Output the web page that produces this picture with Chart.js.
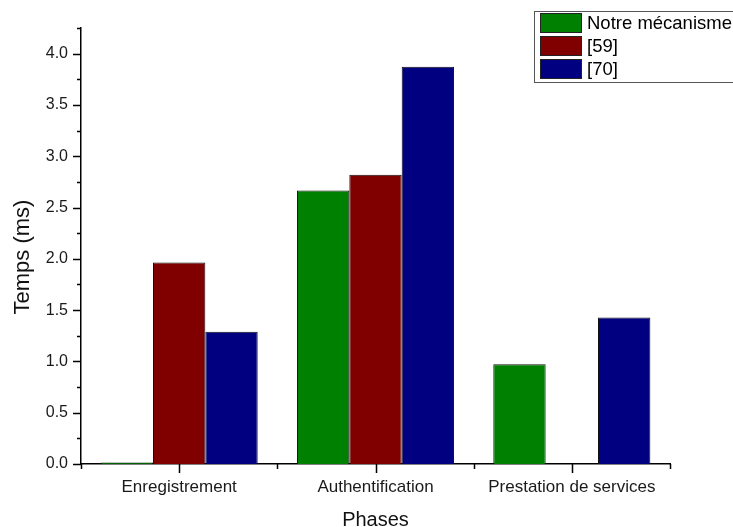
<!DOCTYPE html>
<html>
<head>
<meta charset="utf-8">
<title>Temps par phase</title>
<script src="https://cdn.jsdelivr.net/npm/chart.js@4.4.0/dist/chart.umd.min.js"></script>
<style>
  html, body { margin: 0; padding: 0; background: #ffffff; }
  canvas { display: block; }
</style>
</head>
<body>
<canvas id="chart" width="733" height="527"></canvas>
<script>
// Phases on the x axis
const categories = ['Enregistrement', 'Authentification', 'Prestation de services'];

// Execution time per phase (ms)
const notreMecanisme = [0.015, 2.665, 0.973];
const ref59 = [1.963, 2.82, 0];
const ref70 = [1.29, 3.873, 1.428];

// Series names shown in the legend
const seriesNames = ['Notre mécanisme', '[59]', '[70]'];

// Y axis range and labelled tick spacing
const yMin = 0;
const yMax = 4.25;
const yStep = 0.5;

const colors = ['#008000', '#800000', '#000080'];
const FONT = '"Liberation Sans", Arial, sans-serif';

// Draws the tick marks, axis titles and the boxed legend
const decorations = {
  id: 'decorations',
  afterDraw(chart) {
    const ctx = chart.ctx;
    const area = chart.chartArea;
    const x = chart.scales.x;
    const y = chart.scales.y;
    ctx.save();
    ctx.strokeStyle = '#000';
    ctx.lineWidth = 1.5;

    // y ticks: long at every 0.5, short halfway between
    ctx.beginPath();
    for (let v = yMin; v <= yMax + 1e-9; v += yStep / 2) {
      const py = Math.round(y.getPixelForValue(v)) + 0.5;
      const major = Math.abs(v / yStep - Math.round(v / yStep)) < 1e-6;
      const len = major ? 8 : 4;
      ctx.moveTo(area.left, py);
      ctx.lineTo(area.left - len, py);
    }
    ctx.stroke();

    // x ticks: long at category centres, short at category boundaries
    ctx.beginPath();
    const n = categories.length;
    for (let i = 0; i < n; i++) {
      const px = Math.round(x.getPixelForValue(i)) + 0.5;
      ctx.moveTo(px, area.bottom);
      ctx.lineTo(px, area.bottom + 9);
    }
    for (let i = 0; i <= n; i++) {
      const px = Math.round(x.getPixelForValue(i - 0.5)) + 0.5;
      ctx.moveTo(px, area.bottom);
      ctx.lineTo(px, area.bottom + 5);
    }
    ctx.stroke();

    // axis titles
    ctx.fillStyle = '#111';
    ctx.textAlign = 'center';
    ctx.textBaseline = 'alphabetic';
    ctx.font = '20px ' + FONT;
    ctx.fillText('Phases', (area.left + area.right) / 2, 526);

    ctx.save();
    ctx.font = '22px ' + FONT;
    ctx.translate(29, 257);
    ctx.rotate(-Math.PI / 2);
    ctx.fillText('Temps (ms)', 0, 0);
    ctx.restore();

    // legend box
    ctx.strokeStyle = '#555';
    ctx.lineWidth = 1;
    ctx.strokeRect(534.5, 11.5, 220, 71);
    const rowTops = [13, 36, 59];
    ctx.font = '18.5px ' + FONT;
    ctx.textAlign = 'left';
    chart.data.datasets.forEach((ds, i) => {
      ctx.fillStyle = ds.backgroundColor;
      ctx.fillRect(540, rowTops[i], 42, 20);
      ctx.strokeStyle = '#222';
      ctx.strokeRect(540.5, rowTops[i] + 0.5, 41, 19);
      ctx.fillStyle = '#000';
      ctx.fillText(ds.label, 587, rowTops[i] + 15.5);
    });
    ctx.restore();
  }
};

const datasets = [notreMecanisme, ref59, ref70].map((values, i) => ({
  label: seriesNames[i],
  data: values,
  backgroundColor: colors[i],
  borderColor: '#111111',
  borderWidth: 1,
  borderSkipped: 'bottom',
  categoryPercentage: 0.8,
  barPercentage: 1.0
}));

new Chart(document.getElementById('chart'), {
  type: 'bar',
  data: { labels: categories, datasets: datasets },
  options: {
    responsive: false,
    devicePixelRatio: 1,
    animation: false,
    layout: { padding: { top: 28, right: 63, left: 0, bottom: 0 } },
    plugins: {
      legend: { display: false },
      tooltip: { enabled: false }
    },
    scales: {
      x: {
        type: 'category',
        offset: true,
        grid: { display: false, drawTicks: false },
        border: { display: true, color: '#000', width: 1.5 },
        ticks: {
          padding: 13,
          color: '#1a1a1a',
          font: { family: FONT, size: 17 },
          maxRotation: 0,
          autoSkip: false
        },
        afterFit(scale) { scale.height = 63; }
      },
      y: {
        min: yMin,
        max: yMax,
        grid: { display: false, drawTicks: false },
        border: { display: true, color: '#000', width: 1.5 },
        ticks: {
          stepSize: yStep,
          padding: 13,
          color: '#1a1a1a',
          font: { family: FONT, size: 16 },
          callback: (v) => Number(v).toFixed(1)
        },
        afterBuildTicks(scale) {
          scale.ticks = scale.ticks.filter(t =>
            Math.abs(t.value / yStep - Math.round(t.value / yStep)) < 1e-6);
        },
        afterFit(scale) { scale.width = 81; }
      }
    }
  },
  plugins: [decorations]
});
</script>
</body>
</html>
